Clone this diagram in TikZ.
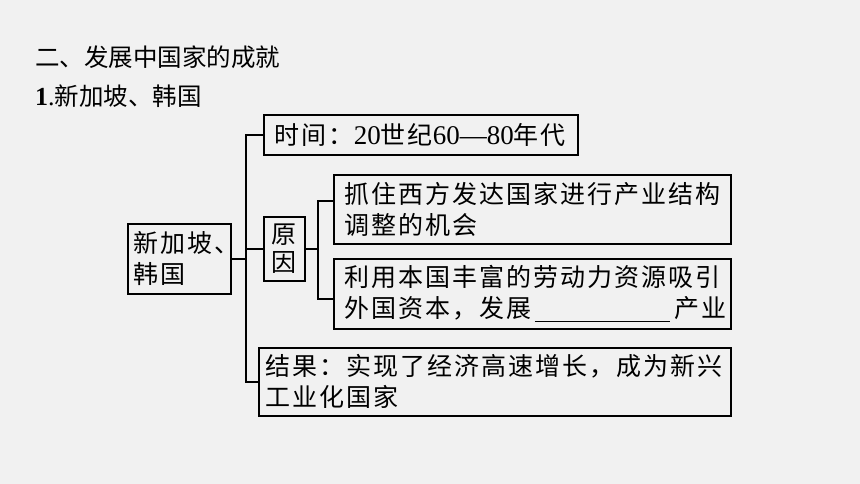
\documentclass[tikz,border=0pt]{standalone}
\usepackage{fontspec}
\setmainfont{Liberation Serif}
\newfontfamily\cjk[LetterSpace=8]{Noto Sans CJK SC}
\newfontfamily\cjkt{Noto Sans CJK SC}
\definecolor{bg}{RGB}{241,241,241}
\newcommand\dg[1]{{\rmfamily\fontsize{27}{31}\selectfont #1}}
\begin{document}
\begin{tikzpicture}[x=1pt,y=-1pt,
  box/.style={draw=black, line width=1.6pt, anchor=north west, inner ysep=0pt,
    font=\cjk\fontsize{25}{31}\selectfont, align=left},
  ln/.style={line width=1.6pt},
  ttl/.style={anchor=west, inner sep=0pt, font=\cjkt\fontsize{24.5}{26}\selectfont}]
\fill[bg] (0,0) rectangle (860,484);
\useasboundingbox (0,0) rectangle (860,484);

\node[ttl] (title) at (35,57) {二、发展中国家的成就};
\node[ttl] (sub) at (35,96) {{\rmfamily\bfseries\fontsize{26}{26}\selectfont 1}{\rmfamily\fontsize{26}{26}\selectfont .}新加坡、韩国};

\node[box, minimum width=103pt, minimum height=70pt, text width=91pt, inner xsep=6pt] (root) at (127,223) {新加坡、\\韩国};
\node[box, minimum width=314pt, minimum height=40pt, text width=292pt, inner xsep=11pt] (time) at (263,114) {时间：\dg{20}世纪\dg{60—80}年代};
\node[box, minimum width=41pt, minimum height=64pt, text width=37pt, inner xsep=2pt, align=center, font=\cjk\fontsize{25}{28}\selectfont] (reason) at (263,216) {原\\因};
\node[box, minimum width=397pt, minimum height=69pt, text width=375pt, inner xsep=11pt] (r1) at (333,174) {\mbox{抓住西方发达国家进行产业结构}\\调整的机会};
\node[box, minimum width=397pt, minimum height=70pt, text width=375pt, inner xsep=11pt] (r2) at (333,258) {\mbox{利用本国丰富的劳动力资源吸引}\\\mbox{外国资本，发展\hspace{3pt}\rule[-5pt]{135pt}{1.2pt}\hspace{5pt}产业}};
\node[box, minimum width=472pt, minimum height=68pt, text width=458pt, inner xsep=7pt] (result) at (258,347) {\mbox{结果：实现了经济高速增长，成为新兴}\\工业化国家};

\coordinate (ta) at (246,0);
\coordinate (tc) at (318,0);
\draw[ln] (time.west) -- (time.west -| ta) -- (result.west -| ta) -- (result.west);
\draw[ln] (root.east) -- (root.east -| ta);
\draw[ln] (reason.west -| ta) -- (reason.west);
\draw[ln] (reason.east) -- (reason.east -| tc);
\draw[ln] ([yshift=8pt]r1.west) -- ([yshift=8pt]r1.west -| tc) -- ([yshift=-5pt]r2.west -| tc) -- ([yshift=-5pt]r2.west);
\end{tikzpicture}
\end{document}
